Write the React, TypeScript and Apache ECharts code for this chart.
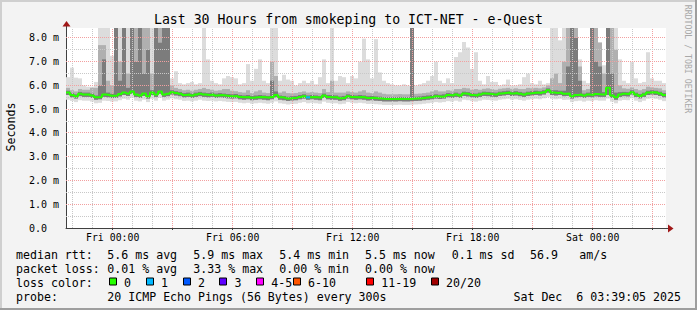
import React, { useEffect, useRef } from 'react';
import * as echarts from 'echarts';

// ---------- text ----------
const TITLE = 'Last 30 Hours from smokeping to ICT-NET - e-Quest';
const Y_NAME = 'Seconds';
const WATERMARK = 'RRDTOOL / TOBI OETIKER';
const X_TICK_LABELS = ['Fri 00:00', 'Fri 06:00', 'Fri 12:00', 'Fri 18:00', 'Sat 00:00'];
const STATS_RTT = ['median rtt:', '5.6 ms avg', '5.9 ms max', '5.4 ms min', '5.5 ms now', '0.1 ms sd', '56.9', 'am/s'];
const STATS_LOSS = ['packet loss:', '0.01 % avg', '3.33 % max', '0.00 % min', '0.00 % now'];
const LOSS_TITLE = 'loss color:';
const LOSS_LABELS = ['0', '1', '2', '3', '4-5', '6-10', '11-19', '20/20'];
const LOSS_COLORS = ['#26ff00', '#00b8ff', '#0059ff', '#5e00ff', '#ff00ff', '#ff5500', '#ff0000', '#a00000'];
const PROBE = ['probe:', '20 ICMP Echo Pings (56 Bytes) every 300s'];
const STAMP = 'Sat Dec  6 03:39:05 2025';

// ---------- time / axis ----------
const SPAN_HOURS = 30;
const BIN_HOURS = 0.2; // 12 minutes per bin
const START_TO_FIRST_HOUR = 20 / 60; // start 21:40 -> first full hour 22:00
const FIRST_FULL_HOUR = 22;
const Y_MAX = 8.42;

// ---------- data (ms), 150 bins of 12 min ----------
const median = [
  5.70, 5.60, 5.55, 5.65, 5.62, 5.62, 5.58, 5.50, 5.52, 5.62,
  5.60, 5.57, 5.58, 5.64, 5.70, 5.66, 5.75, 5.62, 5.58, 5.66,
  5.55, 5.70, 5.62, 5.75, 5.62, 5.65, 5.72, 5.68, 5.65, 5.60,
  5.62, 5.58, 5.62, 5.65, 5.62, 5.60, 5.62, 5.58, 5.60, 5.58,
  5.56, 5.55, 5.56, 5.52, 5.50, 5.52, 5.48, 5.50, 5.52, 5.50,
  5.48, 5.52, 5.60, 5.50, 5.48, 5.45, 5.47, 5.48, 5.52, 5.55,
  5.50, 5.52, 5.50, 5.48, 5.58, 5.52, 5.50, 5.50, 5.46, 5.48,
  5.55, 5.52, 5.50, 5.52, 5.50, 5.47, 5.48, 5.46, 5.45, 5.43,
  5.43, 5.43, 5.43, 5.44, 5.43, 5.43, 5.44, 5.45, 5.46, 5.48,
  5.50, 5.52, 5.55, 5.53, 5.55, 5.60, 5.58, 5.62, 5.58, 5.66,
  5.64, 5.60, 5.58, 5.62, 5.66, 5.65, 5.63, 5.62, 5.66, 5.68,
  5.70, 5.66, 5.68, 5.65, 5.62, 5.66, 5.68, 5.70, 5.68, 5.72,
  5.80, 5.70, 5.68, 5.70, 5.65, 5.66, 5.55, 5.60, 5.62, 5.58,
  5.62, 5.60, 5.64, 5.62, 5.62, 5.90, 5.58, 5.50, 5.62, 5.65,
  5.64, 5.72, 5.62, 5.56, 5.62, 5.70, 5.72, 5.70, 5.66, 5.60,
];
const maxRtt = [
  6.35, 6.75, 6.33, 6.30, 6.00, 5.95, 5.95, 6.15, 8.50, 8.50,
  8.50, 7.25, 8.50, 8.50, 8.50, 8.50, 8.50, 8.50, 8.50, 8.50,
  8.50, 8.50, 8.50, 8.50, 8.50, 8.50, 6.30, 6.60, 6.10, 6.05,
  6.10, 6.15, 6.05, 6.10, 8.50, 7.10, 6.20, 6.10, 6.05, 6.30,
  6.40, 6.35, 6.30, 6.05, 6.10, 6.90, 6.20, 6.70, 7.10, 6.20,
  6.10, 8.50, 8.50, 6.20, 6.45, 6.25, 6.20, 6.00, 6.10, 6.20,
  6.10, 6.20, 6.05, 6.35, 7.10, 6.10, 8.50, 6.20, 6.40, 6.35,
  6.10, 6.40, 6.30, 7.00, 7.97, 7.10, 6.30, 7.95, 6.55, 6.20,
  6.10, 6.05, 6.00, 6.00, 6.05, 6.00, 8.50, 6.00, 6.05, 6.10,
  6.20, 6.40, 7.00, 6.20, 6.10, 6.30, 6.10, 7.20, 7.40, 7.83,
  7.60, 6.70, 7.40, 6.20, 6.05, 6.40, 6.15, 6.15, 6.00, 6.05,
  6.25, 6.00, 6.00, 6.05, 6.35, 6.50, 6.10, 6.05, 6.20, 6.05,
  6.10, 8.50, 8.50, 7.90, 8.50, 8.50, 8.50, 8.50, 7.10, 6.20,
  6.10, 8.50, 8.50, 7.83, 6.85, 8.50, 8.50, 8.50, 7.10, 6.20,
  6.10, 7.00, 6.30, 6.10, 6.15, 7.40, 6.30, 6.20, 6.20, 6.10,
];
const minRtt = [
  5.40, 5.35, 5.30, 5.38, 5.36, 5.36, 5.32, 5.25, 5.27, 5.36,
  5.35, 5.32, 5.33, 5.38, 5.44, 5.40, 5.48, 5.36, 5.33, 5.40,
  5.30, 5.44, 5.36, 5.48, 5.36, 5.40, 5.46, 5.42, 5.40, 5.35,
  5.36, 5.33, 5.36, 5.40, 5.36, 5.35, 5.36, 5.33, 5.35, 5.33,
  5.31, 5.30, 5.31, 5.27, 5.25, 5.27, 5.23, 5.25, 5.27, 5.25,
  5.23, 5.27, 5.33, 5.25, 5.23, 5.20, 5.22, 5.23, 5.27, 5.30,
  5.25, 5.27, 5.25, 5.23, 5.32, 5.27, 5.25, 5.25, 5.21, 5.23,
  5.30, 5.27, 5.25, 5.27, 5.25, 5.22, 5.23, 5.21, 5.20, 5.18,
  5.18, 5.18, 5.18, 5.19, 5.18, 5.18, 5.19, 5.20, 5.21, 5.23,
  5.25, 5.27, 5.30, 5.28, 5.30, 5.34, 5.32, 5.36, 5.32, 5.40,
  5.38, 5.34, 5.32, 5.36, 5.40, 5.39, 5.37, 5.36, 5.40, 5.42,
  5.44, 5.40, 5.42, 5.39, 5.36, 5.40, 5.42, 5.44, 5.42, 5.46,
  5.52, 5.44, 5.42, 5.44, 5.39, 5.40, 5.30, 5.34, 5.36, 5.32,
  5.36, 5.34, 5.38, 5.36, 5.36, 5.45, 5.32, 5.25, 5.36, 5.39,
  5.38, 5.46, 5.36, 5.30, 5.36, 5.44, 5.46, 5.44, 5.40, 5.34,
];
const p90Rtt = [
  5.90, 5.80, 5.75, 5.85, 5.82, 5.82, 5.90, 5.90, 7.70, 7.70,
  6.20, 6.00, 8.50, 7.00, 8.50, 6.50, 8.50, 8.50, 8.50, 8.50,
  8.50, 6.50, 8.50, 8.50, 8.50, 8.50, 6.00, 5.90, 5.85, 5.80,
  5.82, 5.78, 5.82, 5.85, 5.90, 5.85, 5.82, 5.78, 5.80, 5.85,
  5.85, 5.78, 5.76, 5.72, 5.70, 5.80, 5.68, 5.75, 5.80, 5.70,
  5.68, 7.00, 6.40, 5.70, 5.75, 5.68, 5.67, 5.68, 5.72, 5.75,
  5.70, 5.72, 5.70, 5.68, 5.85, 5.72, 6.20, 5.70, 5.70, 5.70,
  5.75, 5.72, 5.70, 5.75, 5.80, 5.70, 5.68, 5.75, 5.70, 5.65,
  5.63, 5.63, 5.63, 5.64, 5.63, 5.63, 8.50, 5.65, 5.66, 5.68,
  5.70, 5.75, 5.80, 5.75, 5.75, 5.80, 5.78, 5.85, 5.85, 5.90,
  5.88, 5.82, 5.85, 5.82, 5.86, 5.88, 5.85, 5.82, 5.86, 5.88,
  5.90, 5.86, 5.88, 5.85, 5.85, 5.90, 5.88, 5.90, 5.88, 5.92,
  6.00, 6.30, 6.50, 6.10, 7.00, 8.50, 8.50, 8.50, 6.80, 5.80,
  5.85, 8.50, 8.50, 7.80, 6.50, 8.50, 8.50, 7.50, 6.00, 5.88,
  5.86, 5.92, 5.85, 5.80, 5.85, 5.95, 5.92, 5.90, 5.88, 5.80,
];
const p10Rtt = [
  5.60, 5.50, 5.45, 5.55, 5.52, 5.52, 5.48, 5.40, 5.42, 5.52,
  5.50, 5.47, 5.48, 5.54, 5.60, 5.56, 5.65, 5.52, 5.48, 5.56,
  5.45, 5.60, 5.52, 5.65, 5.52, 5.55, 5.62, 5.58, 5.55, 5.50,
  5.52, 5.48, 5.52, 5.55, 5.52, 5.50, 5.52, 5.48, 5.50, 5.48,
  5.46, 5.45, 5.46, 5.42, 5.40, 5.42, 5.38, 5.40, 5.42, 5.40,
  5.38, 5.42, 5.50, 5.40, 5.38, 5.35, 5.37, 5.38, 5.42, 5.45,
  5.40, 5.42, 5.40, 5.38, 5.48, 5.42, 5.40, 5.40, 5.36, 5.38,
  5.45, 5.42, 5.40, 5.42, 5.40, 5.37, 5.38, 5.36, 5.35, 5.33,
  5.33, 5.33, 5.33, 5.34, 5.33, 5.33, 5.34, 5.35, 5.36, 5.38,
  5.40, 5.42, 5.45, 5.43, 5.45, 5.50, 5.48, 5.52, 5.48, 5.56,
  5.54, 5.50, 5.48, 5.52, 5.56, 5.55, 5.53, 5.52, 5.56, 5.58,
  5.60, 5.56, 5.58, 5.55, 5.52, 5.56, 5.58, 5.60, 5.58, 5.62,
  5.70, 5.60, 5.58, 5.60, 5.55, 5.56, 5.45, 5.50, 5.52, 5.48,
  5.52, 5.50, 5.54, 5.52, 5.52, 5.60, 5.48, 5.40, 5.52, 5.55,
  5.54, 5.62, 5.52, 5.46, 5.52, 5.60, 5.62, 5.60, 5.56, 5.50,
];
const p75Rtt = [
  5.78, 5.68, 5.63, 5.73, 5.70, 5.70, 5.66, 5.58, 6.00, 7.10,
  5.70, 5.65, 8.50, 6.20, 8.50, 5.90, 8.50, 7.00, 8.50, 6.50,
  7.50, 5.80, 8.50, 7.80, 8.50, 8.50, 5.80, 5.76, 5.73, 5.68,
  5.70, 5.66, 5.70, 5.73, 5.70, 5.68, 5.70, 5.66, 5.68, 5.66,
  5.64, 5.63, 5.64, 5.60, 5.58, 5.60, 5.56, 5.58, 5.60, 5.58,
  5.56, 6.20, 5.75, 5.58, 5.56, 5.53, 5.55, 5.56, 5.60, 5.63,
  5.58, 5.60, 5.58, 5.56, 5.66, 5.60, 5.60, 5.58, 5.54, 5.56,
  5.63, 5.60, 5.58, 5.60, 5.58, 5.55, 5.56, 5.54, 5.53, 5.51,
  5.51, 5.51, 5.51, 5.52, 5.51, 5.51, 8.50, 5.53, 5.54, 5.56,
  5.58, 5.60, 5.63, 5.61, 5.63, 5.68, 5.66, 5.70, 5.66, 5.74,
  5.72, 5.68, 5.66, 5.70, 5.74, 5.73, 5.71, 5.70, 5.74, 5.76,
  5.78, 5.74, 5.76, 5.73, 5.70, 5.74, 5.76, 5.78, 5.76, 5.80,
  5.88, 5.80, 5.80, 5.78, 5.78, 6.80, 8.50, 8.00, 6.20, 5.66,
  5.70, 8.50, 7.00, 6.80, 5.72, 8.50, 6.50, 5.70, 5.72, 5.73,
  5.72, 5.80, 5.70, 5.64, 5.70, 5.78, 5.80, 5.78, 5.74, 5.68,
];
// bins with packet loss: [bin index, lost pings]
const lossBins = [[60, 1]];

// ---------- layout ----------
const W = 697;
const H = 310;
const PLOT_LEFT = 66;
const PLOT_RIGHT = 666;
const PLOT_TOP = 28;
const PLOT_BOTTOM = 228;
const MONO = '"DejaVu Sans Mono", "Liberation Mono", monospace';
const RTT_X = [16, 107.3, 193.3, 279.3, 365, 451.7, 530, 579.3];
const LOSS_BOX_X = [108.7, 145.7, 182.7, 219.3, 256, 292.7, 366, 430.7];
const LINE_Y = [254.5, 268.5, 282.5, 296.5];
const SMOKE_COLORS = ['#dcdcdc', '#b0b0b0', '#7c7c7c'];

function bandData(lo: number[], hi: number[]) {
  return lo.map((v, i) => [i * BIN_HOURS, (i + 1) * BIN_HOURS, v, Math.min(hi[i], Y_MAX)]);
}

function bandSeries(lo: number[], hi: number[], color: string, z: number) {
  return {
    type: 'custom',
    z,
    silent: true,
    encode: { x: [0, 1], y: [2, 3] },
    data: bandData(lo, hi),
    renderItem: (_p: any, api: any) => {
      const a = api.coord([api.value(0), api.value(3)]);
      const b = api.coord([api.value(1), api.value(2)]);
      return {
        type: 'rect',
        shape: { x: a[0], y: a[1], width: b[0] - a[0], height: b[1] - a[1] },
        style: { fill: color },
      };
    },
  };
}

function buildOption() {
  // grid lines: [orientation (0 vertical,1 horizontal), value, major]
  const gridItems: number[][] = [];
  const labelHours: number[] = [];
  const majorHours: number[] = [];
  for (let k = 0; START_TO_FIRST_HOUR + k < SPAN_HOURS; k++) {
    const h = START_TO_FIRST_HOUR + k;
    const hod = (FIRST_FULL_HOUR + k) % 24;
    const major = hod % 3 === 0 ? 1 : 0;
    gridItems.push([0, h, major]);
    if (major) majorHours.push(h);
    if (hod % 6 === 0) labelHours.push(h);
  }
  for (let v = 0.5; v <= Y_MAX; v += 0.5) {
    gridItems.push([1, v, Math.abs(v - Math.round(v)) < 1e-6 ? 1 : 0]);
  }

  const medianLine: number[][] = median.map((v, i) => [i * BIN_HOURS, v]);
  medianLine.push([SPAN_HOURS, median[median.length - 1]]);

  const lossSeries = lossBins.map(([bin, lost]) => ({
    type: 'line',
    z: 11,
    silent: true,
    symbol: 'none',
    lineStyle: { color: LOSS_COLORS[Math.min(lost, LOSS_COLORS.length - 1)], width: 2 },
    data: [
      [bin * BIN_HOURS, median[bin]],
      [(bin + 1) * BIN_HOURS, median[bin]],
    ],
  }));

  const graphic: any[] = [];
  // frame
  graphic.push({ type: 'rect', shape: { x: 0, y: 0, width: W, height: 2 }, style: { fill: '#cfcfcf' }, silent: true });
  graphic.push({ type: 'rect', shape: { x: 0, y: 0, width: 2, height: H }, style: { fill: '#cfcfcf' }, silent: true });
  graphic.push({ type: 'rect', shape: { x: W - 2, y: 0, width: 2, height: H }, style: { fill: '#9e9e9e' }, silent: true });
  graphic.push({ type: 'rect', shape: { x: 0, y: H - 2, width: W, height: 2 }, style: { fill: '#9e9e9e' }, silent: true });
  // arrows
  graphic.push({ type: 'line', shape: { x1: PLOT_RIGHT, y1: PLOT_BOTTOM + 0.5, x2: PLOT_RIGHT + 3, y2: PLOT_BOTTOM + 0.5 }, style: { stroke: '#404040', lineWidth: 1 }, z: 50 });
  graphic.push({ type: 'polygon', shape: { points: [[PLOT_RIGHT + 2, PLOT_BOTTOM - 3.5], [PLOT_RIGHT + 7.5, PLOT_BOTTOM + 0.5], [PLOT_RIGHT + 2, PLOT_BOTTOM + 4.5]] }, style: { fill: '#a01818' }, z: 50 });
  graphic.push({ type: 'line', shape: { x1: PLOT_LEFT + 0.5, y1: PLOT_TOP, x2: PLOT_LEFT + 0.5, y2: PLOT_TOP - 3 }, style: { stroke: '#404040', lineWidth: 1 }, z: 50 });
  graphic.push({ type: 'polygon', shape: { points: [[PLOT_LEFT - 3.5, PLOT_TOP - 1.5], [PLOT_LEFT + 0.5, PLOT_TOP - 7], [PLOT_LEFT + 4.5, PLOT_TOP - 1.5]] }, style: { fill: '#a01818' }, z: 50 });
  // title
  graphic.push({ type: 'text', x: W / 2, y: 19, style: { text: TITLE, fill: '#000', font: `13.2px ${MONO}`, textAlign: 'center', textVerticalAlign: 'middle' } });
  // vertical label
  graphic.push({ type: 'text', x: 10.5, y: 127, rotation: Math.PI / 2, style: { text: Y_NAME, fill: '#000', font: `11.6px ${MONO}`, textAlign: 'center', textVerticalAlign: 'middle' } });
  // watermark
  graphic.push({ type: 'text', x: 688, y: 59, rotation: -Math.PI / 2, style: { text: WATERMARK, fill: '#a8a8a8', font: `8.2px ${MONO}`, textAlign: 'center', textVerticalAlign: 'middle' } });
  // legend lines
  const legendFont = `11.6px ${MONO}`;
  STATS_RTT.forEach((t, i) => graphic.push({ type: 'text', x: RTT_X[i], y: LINE_Y[0], style: { text: t, fill: '#000', font: legendFont, textVerticalAlign: 'middle' } }));
  STATS_LOSS.forEach((t, i) => graphic.push({ type: 'text', x: RTT_X[i], y: LINE_Y[1], style: { text: t, fill: '#000', font: legendFont, textVerticalAlign: 'middle' } }));
  graphic.push({ type: 'text', x: RTT_X[0], y: LINE_Y[2], style: { text: LOSS_TITLE, fill: '#000', font: legendFont, textVerticalAlign: 'middle' } });
  LOSS_LABELS.forEach((t, i) => {
    graphic.push({ type: 'rect', shape: { x: Math.round(LOSS_BOX_X[i]) + 0.5, y: LINE_Y[2] - 4.5, width: 7, height: 7 }, style: { fill: LOSS_COLORS[i], stroke: '#000', lineWidth: 1 } });
    graphic.push({ type: 'text', x: LOSS_BOX_X[i] + 15.3, y: LINE_Y[2], style: { text: t, fill: '#000', font: legendFont, textVerticalAlign: 'middle' } });
  });
  PROBE.forEach((t, i) => graphic.push({ type: 'text', x: RTT_X[i], y: LINE_Y[3], style: { text: t, fill: '#000', font: legendFont, textVerticalAlign: 'middle' } }));
  graphic.push({ type: 'text', x: 681, y: LINE_Y[3], style: { text: STAMP, fill: '#000', font: legendFont, textAlign: 'right', textVerticalAlign: 'middle' } });

  return {
    animation: false,
    backgroundColor: '#f3f3f3',
    grid: {
      left: PLOT_LEFT,
      right: W - PLOT_RIGHT,
      top: PLOT_TOP,
      bottom: H - PLOT_BOTTOM,
      show: true,
      backgroundColor: '#ffffff',
      borderWidth: 0,
    },
    xAxis: {
      type: 'value',
      min: 0,
      max: SPAN_HOURS,
      splitLine: { show: false },
      axisLine: { show: true, lineStyle: { color: '#404040', width: 1 } },
      axisTick: { show: true, customValues: majorHours, length: 2, lineStyle: { color: '#404040' } },
      axisLabel: {
        customValues: labelHours,
        formatter: (v: number) => {
          const idx = labelHours.findIndex((h) => Math.abs(h - v) < 1e-3);
          return idx >= 0 ? X_TICK_LABELS[idx] : '';
        },
        color: '#000',
        fontFamily: MONO,
        fontSize: 9.85,
        margin: 4,
      },
    },
    yAxis: {
      type: 'value',
      min: 0,
      max: Y_MAX,
      interval: 1,
      splitLine: { show: false },
      axisLine: { show: true, lineStyle: { color: '#404040', width: 1 } },
      axisTick: { show: false },
      axisLabel: {
        formatter: (v: number) => {
          if (Math.abs(v - Math.round(v)) > 1e-6) return '';
          return v === 0 ? '0.0' : `${v.toFixed(1)} m`;
        },
        align: 'left',
        margin: 37,
        color: '#000',
        fontFamily: MONO,
        fontSize: 10,
      },
    },
    graphic,
    series: [
      bandSeries(minRtt, maxRtt, SMOKE_COLORS[0], 2),
      bandSeries(p10Rtt, p90Rtt, SMOKE_COLORS[1], 3),
      bandSeries(p10Rtt, p75Rtt, SMOKE_COLORS[2], 4),
      {
        type: 'custom',
        z: 6,
        silent: true,
        data: gridItems,
        renderItem: (_p: any, api: any) => {
          const orient = api.value(0);
          const v = api.value(1);
          const major = api.value(2) === 1;
          const stroke = major ? '#f2a0a0' : '#c8c8c8';
          if (orient === 0) {
            const a = api.coord([v, 0]);
            const b = api.coord([v, Y_MAX]);
            const x = Math.floor(a[0]) + 0.5;
            return { type: 'line', shape: { x1: x, y1: a[1], x2: x, y2: b[1] }, style: { stroke, lineWidth: 1, lineDash: [1, 1] } };
          }
          const a = api.coord([0, v]);
          const b = api.coord([SPAN_HOURS, v]);
          const y = Math.floor(a[1]) + 0.5;
          return { type: 'line', shape: { x1: a[0], y1: y, x2: b[0], y2: y }, style: { stroke, lineWidth: 1, lineDash: [1, 1] } };
        },
      },
      {
        type: 'line',
        z: 10,
        silent: true,
        symbol: 'none',
        step: 'end',
        lineStyle: { color: LOSS_COLORS[0], width: 2 },
        data: medianLine,
      },
      ...lossSeries,
    ],
  };
}

export default function App() {
  const ref = useRef<HTMLDivElement>(null);
  useEffect(() => {
    document.body.style.margin = '0';
    const chart = echarts.init(ref.current as HTMLDivElement, null, { renderer: 'svg' });
    chart.setOption(buildOption() as any);
    return () => chart.dispose();
  }, []);
  return <div ref={ref} style={{ width: W, height: H }} />;
}
